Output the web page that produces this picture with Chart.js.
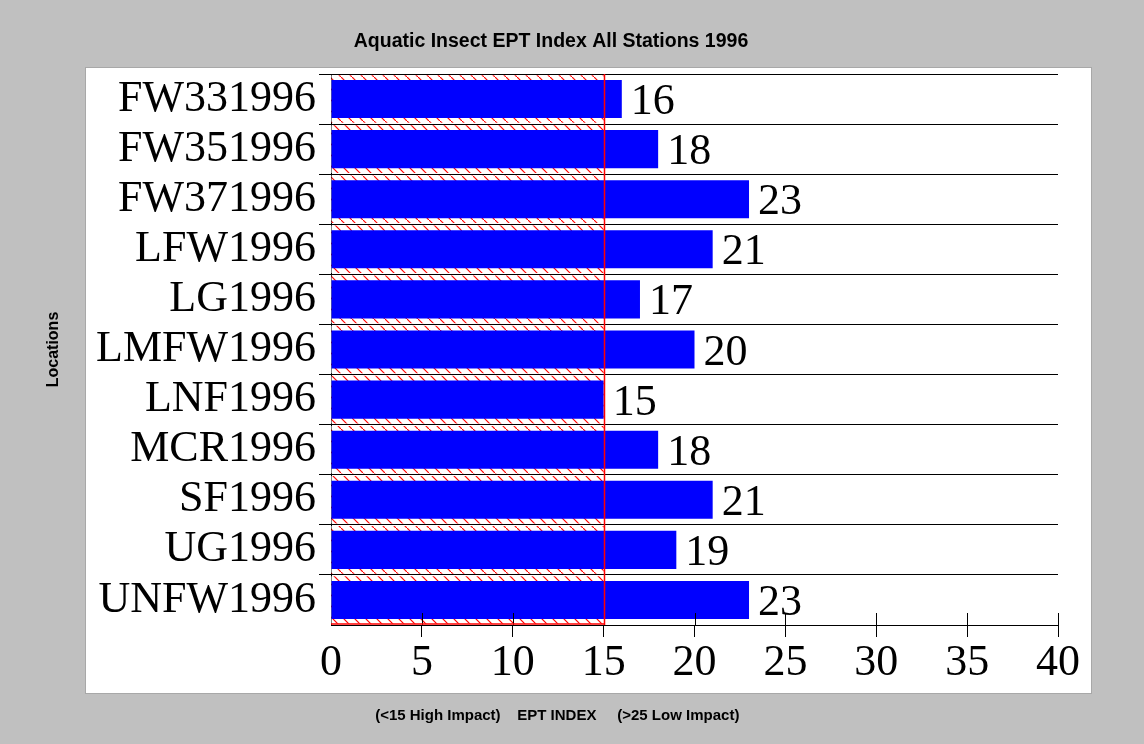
<!DOCTYPE html>
<html>
<head>
<meta charset="utf-8">
<script src="https://cdn.jsdelivr.net/npm/chart.js@4"></script>
<style>
    html, body { margin: 0; padding: 0; background: #c0c0c0; }
    #wrap { width: 1144px; height: 744px; }
</style>
</head>
<body>
<div id="wrap"><canvas id="eptChart"></canvas></div>
<script>
const stations = ['FW331996', 'FW351996', 'FW371996', 'LFW1996', 'LG1996', 'LMFW1996',
    'LNF1996', 'MCR1996', 'SF1996', 'UG1996', 'UNFW1996'];
const eptIndex = [16, 18, 23, 21, 17, 20, 15, 18, 21, 19, 23];
const highImpact = 15;
const xTicks = [0, 5, 10, 15, 20, 25, 30, 35, 40];

const serif = 'Liberation Serif';
const sans = 'Liberation Sans';

// red diagonal hatch used for the high impact band
function makeHatch() {
    const c = document.createElement('canvas');
    c.width = 11;
    c.height = 11;
    const g = c.getContext('2d');
    g.fillStyle = '#fff';
    g.fillRect(0, 0, 11, 11);
    g.strokeStyle = '#ff0000';
    g.lineWidth = 1.2;
    g.beginPath();
    g.moveTo(-1, -1);
    g.lineTo(12, 12);
    g.stroke();
    return g.createPattern(c, 'repeat');
}

const panel = {
    id: 'panel',
    beforeDraw(chart) {
        const ctx = chart.ctx;
        const a = chart.chartArea;
        ctx.save();
        ctx.fillStyle = '#fff';
        ctx.fillRect(a.left - 245, a.top - 6, a.right - a.left + 278, a.bottom - a.top + 74);
        ctx.strokeStyle = '#a8a8a8';
        ctx.lineWidth = 1;
        ctx.strokeRect(a.left - 245.5, a.top - 6.5, a.right - a.left + 279, a.bottom - a.top + 75);
        ctx.restore();
    }
};

const extras = {
    id: 'extras',
    afterDatasetsDraw(chart) {
        const ctx = chart.ctx;
        const a = chart.chartArea;
        const x = chart.scales.x;
        ctx.save();

        // tick marks crossing into the plot
        ctx.strokeStyle = '#000';
        ctx.lineWidth = 1;
        x.ticks.forEach(t => {
            if (t.value === 0) return;
            const px = Math.round(x.getPixelForValue(t.value)) + 0.5;
            ctx.beginPath();
            ctx.moveTo(px, a.bottom - 12);
            ctx.lineTo(px, a.bottom);
            ctx.stroke();
        });

        // high impact threshold
        const px15 = Math.round(x.getPixelForValue(highImpact)) + 0.5;
        ctx.strokeStyle = '#ff0000';
        ctx.lineWidth = 1.5;
        ctx.beginPath();
        ctx.moveTo(px15, a.top);
        ctx.lineTo(px15, a.bottom);
        ctx.stroke();
        ctx.beginPath();
        ctx.moveTo(x.getPixelForValue(0), a.bottom - 1);
        ctx.lineTo(px15, a.bottom - 1);
        ctx.stroke();

        // value labels
        ctx.fillStyle = '#000';
        ctx.font = '44px "' + serif + '"';
        ctx.textAlign = 'left';
        ctx.textBaseline = 'alphabetic';
        const meta = chart.getDatasetMeta(0);
        meta.data.forEach((bar, i) => {
            ctx.fillText(String(eptIndex[i]), bar.x + 9, bar.y + 15);
        });
        ctx.restore();
    }
};

new Chart(document.getElementById('eptChart'), {
    type: 'bar',
    data: {
        labels: stations,
        datasets: [{
            label: 'EPT Index',
            data: eptIndex,
            backgroundColor: '#0000ff',
            barPercentage: 0.76,
            categoryPercentage: 1,
            grouped: false,
            order: 1
        }, {
            label: 'High Impact',
            data: stations.map(() => highImpact),
            backgroundColor: makeHatch(),
            barPercentage: 0.95,
            categoryPercentage: 1,
            grouped: false,
            order: 2
        }]
    },
    options: {
        indexAxis: 'y',
        responsive: true,
        maintainAspectRatio: false,
        animation: false,
        layout: {
            padding: { left: 44, right: 86, top: 0, bottom: 0 }
        },
        plugins: {
            legend: { display: false },
            tooltip: { enabled: false },
            title: {
                display: true,
                text: 'Aquatic Insect EPT Index All Stations 1996',
                color: '#000',
                font: { family: sans, size: 19.5, weight: 'bold' },
                padding: { top: 30, bottom: 20.6 }
            },
            subtitle: {
                display: true,
                position: 'bottom',
                text: '   (<15 High Impact)    EPT INDEX     (>25 Low Impact)',
                color: '#000',
                font: { family: sans, size: 15, weight: 'bold' },
                padding: { top: 12, bottom: 19 }
            }
        },
        scales: {
            x: {
                type: 'linear',
                min: 0,
                max: 40,
                afterBuildTicks(scale) {
                    scale.ticks = xTicks.map(v => ({ value: v }));
                },
                afterFit(scale) {
                    scale.height = 70;
                },
                ticks: {
                    color: '#000',
                    padding: 0,
                    font: { family: serif, size: 44 }
                },
                grid: {
                    drawOnChartArea: false,
                    tickLength: 12,
                    color: ctx => (ctx.tick && ctx.tick.value === 0 ? 'rgba(0,0,0,0)' : '#000')
                },
                border: { color: '#000', width: 1 }
            },
            y: {
                afterFit(scale) {
                    scale.width = 287;
                },
                ticks: {
                    color: '#000',
                    padding: 3,
                    autoSkip: false,
                    font: { family: serif, size: 44 }
                },
                grid: {
                    offset: true,
                    // no left stub on the bottom line (the x axis)
                    color: ctx => (ctx.type === 'tick' ? '#000' : 'rgba(0,0,0,0)'),
                    tickLength: 12
                },
                border: { color: '#000', width: 1 },
                title: {
                    display: true,
                    text: 'Locations',
                    color: '#000',
                    font: { family: sans, size: 16, weight: 'bold' },
                    padding: { top: 0, bottom: 0 }
                }
            }
        }
    },
    plugins: [panel, extras]
});
</script>
</body>
</html>
